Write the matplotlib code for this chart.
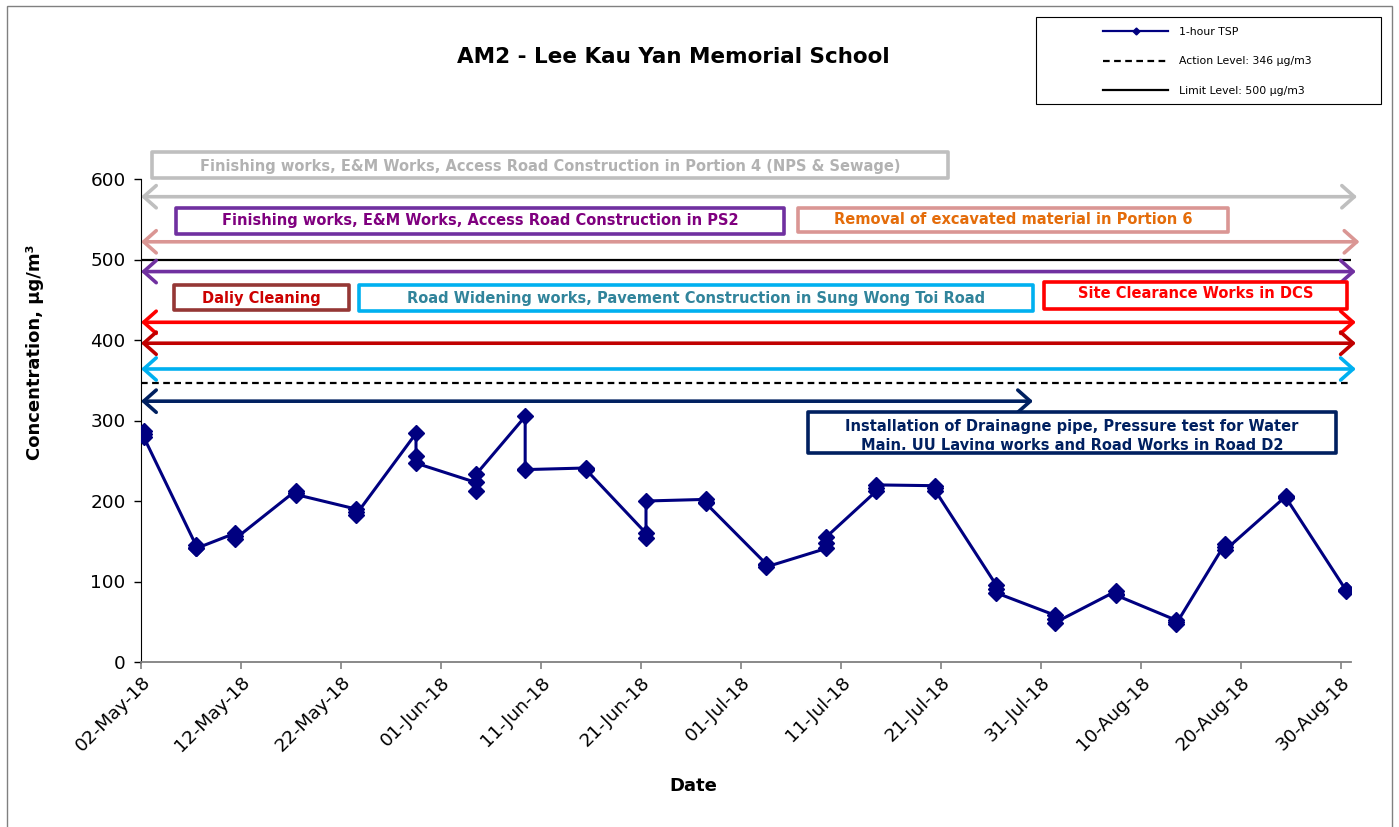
import pandas as pd
import matplotlib
matplotlib.use("Agg")
import matplotlib.pyplot as plt
import matplotlib.dates as mdates
from matplotlib.patches import Rectangle
from matplotlib.lines import Line2D

plt.rcParams['font.family'] = ['DejaVu Sans']

# sampling days (3 x 1-hour readings each day)
sample_days = ["2018-05-02 07:00", "2018-05-07 12:00", "2018-05-11 10:00", "2018-05-17 12:00",
               "2018-05-23 12:00", "2018-05-29 12:00", "2018-06-04 12:00", "2018-06-09 10:00",
               "2018-06-15 12:00", "2018-06-21 12:00", "2018-06-27 12:00", "2018-07-03 12:00",
               "2018-07-09 12:00", "2018-07-14 12:00", "2018-07-20 10:00", "2018-07-26 12:00",
               "2018-08-01 10:00", "2018-08-07 12:00", "2018-08-13 12:00", "2018-08-18 10:00",
               "2018-08-24 12:00", "2018-08-30 11:00"]
tsp_1st = [287, 145, 160, 213, 190, 284, 223, 305, 241, 160, 202, 122, 141, 212, 219, 96, 58, 88, 52, 147, 206, 90]
tsp_2nd = [283, 142, 156, 210, 186, 256, 213, 240, 240, 154, 199, 120, 148, 216, 216, 91, 53, 85, 50, 143, 205, 89]
tsp_3rd = [279, 141, 153, 208, 183, 247, 233, 239, 239, 200, 197, 118, 155, 220, 213, 86, 49, 83, 47, 139, 204, 88]

action_level = 346
limit_level = 500

series_label = "1-hour TSP"
action_label = "Action Level: 346 µg/m3"
limit_label = "Limit Level: 500 µg/m3"

W, H = 1399, 827


def fx(x):
    return x / W


def fy(y):
    return 1 - y / H


# one row per reading
days = pd.to_datetime(sample_days)
times = []
values = []
for d, a, b, c in zip(days, tsp_1st, tsp_2nd, tsp_3rd):
    times += [d, d, d]
    values += [a, b, c]

fig = plt.figure(figsize=(W / 100, H / 100), dpi=100)
ax = fig.add_axes([fx(141), fy(662), (1351 - 141) / W, (662 - 179) / H])

navy = '#000080'
ax.plot(times, values, color=navy, lw=2.2, marker='D', ms=8.3, zorder=5)
ax.axhline(action_level, color='black', lw=1.6, ls=(0, (3, 2)), zorder=3)
ax.axhline(limit_level, color='black', lw=1.6, zorder=3)

ax.set_ylim(0, 600)
ax.set_xlim(pd.Timestamp("2018-05-02"), pd.Timestamp("2018-08-31"))
ax.set_yticks(range(0, 601, 100))
ax.set_xticks(pd.date_range("2018-05-02", "2018-08-30", freq="10D"))
ax.xaxis.set_major_formatter(mdates.DateFormatter('%d-%b-%y'))
ax.tick_params(axis='y', labelsize=13.3, length=5, width=1, direction='out', pad=6)
ax.tick_params(axis='x', labelsize=13.3, length=5, width=1.2, color='#808080', direction='out', pad=3)
for lbl in ax.get_xticklabels():
    lbl.set_rotation(45)
    lbl.set_ha('right')
    lbl.set_va('top')
    lbl.set_rotation_mode('anchor')

ax.spines['top'].set_visible(False)
ax.spines['right'].set_visible(False)
ax.spines['bottom'].set_color('#808080')
ax.spines['bottom'].set_linewidth(1.3)

fig.text(fx(673), fy(57), "AM2 - Lee Kau Yan Memorial School", ha='center', va='center',
         fontsize=15.5, fontweight='bold')
fig.text(fx(693), fy(786), "Date", ha='center', va='center', fontsize=13, fontweight='bold')
fig.text(fx(35), fy(352), "Concentration, µg/m³", ha='center', va='center', rotation=90,
         fontsize=13, fontweight='bold')

# work period arrows
def period_arrow(y, color, x_end=1.004):
    ax.annotate('', xy=(x_end, y), xytext=(0.0, y),
                xycoords=('axes fraction', 'data'), textcoords=('axes fraction', 'data'),
                arrowprops=dict(arrowstyle='<->,head_length=0.9,head_width=0.8', color=color,
                                lw=2.6, shrinkA=0, shrinkB=0),
                annotation_clip=False, zorder=4)


period_arrow(578, '#bfbfbf', 1.005)
period_arrow(522, '#da9694', 1.007)
period_arrow(485, '#7030a0')
period_arrow(422, '#ff0000')
period_arrow(396, '#c00000')
period_arrow(364, '#00b0f0')
period_arrow(324, '#002060', (1033 - 141) / 1210)


# work description boxes
def work_box(x0, y0, x1, y1, edge, text, tcolor, ty=None, fs=10.5, ls=1.2):
    rect = Rectangle((fx(x0), fy(y1)), fx(x1) - fx(x0), fy(y0) - fy(y1), transform=fig.transFigure,
                     fill=True, facecolor='white', edgecolor=edge, lw=2.6, joinstyle='round', zorder=6)
    fig.add_artist(rect)
    if ty is None:
        ty = (y0 + y1) / 2
    t = fig.text(fx((x0 + x1) / 2), fy(ty), text, ha='center', va='center', color=tcolor,
                 fontsize=fs, fontweight='bold', zorder=7, linespacing=ls)
    return rect, t


work_box(152, 152, 948, 178, '#bfbfbf',
         "Finishing works, E&M Works, Access Road Construction in Portion 4 (NPS & Sewage)", '#b2b2b2', 166)
work_box(176, 208, 784, 234, '#7030a0',
         "Finishing works, E&M Works, Access Road Construction in PS2", '#7f007f', 221)
work_box(798, 208, 1228, 232, '#da9694', "Removal of excavated material in Portion 6", '#e46c0a', 220)
work_box(174, 285, 349, 310, '#953735', "Daliy Cleaning", '#cc0000', 298)
work_box(359, 285, 1033, 311, '#00b0f0',
         "Road Widening works, Pavement Construction in Sung Wong Toi Road", '#31849b', 298)
work_box(1044, 282, 1347, 309, '#ff0000', "Site Clearance Works in DCS", '#ff0000', 294)
# this one is too small for its text, so the lower line runs under the frame
fig.add_artist(Rectangle((fx(808), fy(453)), fx(1336) - fx(808), fy(412) - fy(453),
                         transform=fig.transFigure, facecolor='white', edgecolor='none', zorder=6))
t = fig.text(fx(1072), fy(436), "Installation of Drainagne pipe, Pressure test for Water\n"
             "Main, UU Laying works and Road Works in Road D2", ha='center', va='center',
             color='#002060', fontsize=10.5, fontweight='bold', linespacing=1.4, zorder=7)
clip = Rectangle((fx(808), fy(450)), fx(1336) - fx(808), fy(412) - fy(450), transform=fig.transFigure,
                 visible=False)
fig.add_artist(clip)
t.set_clip_path(clip)
fig.add_artist(Rectangle((fx(808), fy(453)), fx(1336) - fx(808), fy(412) - fy(453),
                         transform=fig.transFigure, fill=False, edgecolor='#002060', lw=2.6,
                         joinstyle='round', zorder=8))

# legend with its own frame
fig.add_artist(Rectangle((fx(1036), fy(104)), fx(1381) - fx(1036), fy(17) - fy(104),
                         transform=fig.transFigure, fill=False, edgecolor='black', lw=0.8))
handles = [Line2D([], [], color=navy, lw=1.6, marker='D', ms=3.5),
           Line2D([], [], color='black', lw=1.6, ls=(0, (3, 2))),
           Line2D([], [], color='black', lw=1.6)]
fig.legend(handles, [series_label, action_label, limit_label], loc='upper left',
           bbox_to_anchor=(fx(1103), fy(27)), bbox_transform=fig.transFigure, frameon=False,
           fontsize=7.8, handlelength=6.0, handletextpad=1.0, labelspacing=1.8,
           borderpad=0, borderaxespad=0)

# outer frame
fig.add_artist(Rectangle((fx(7), fy(830)), fx(1392) - fx(7), fy(6) - fy(830),
                         transform=fig.transFigure, fill=False, edgecolor='#808080', lw=1))

fig.savefig("out.png", dpi=100)
